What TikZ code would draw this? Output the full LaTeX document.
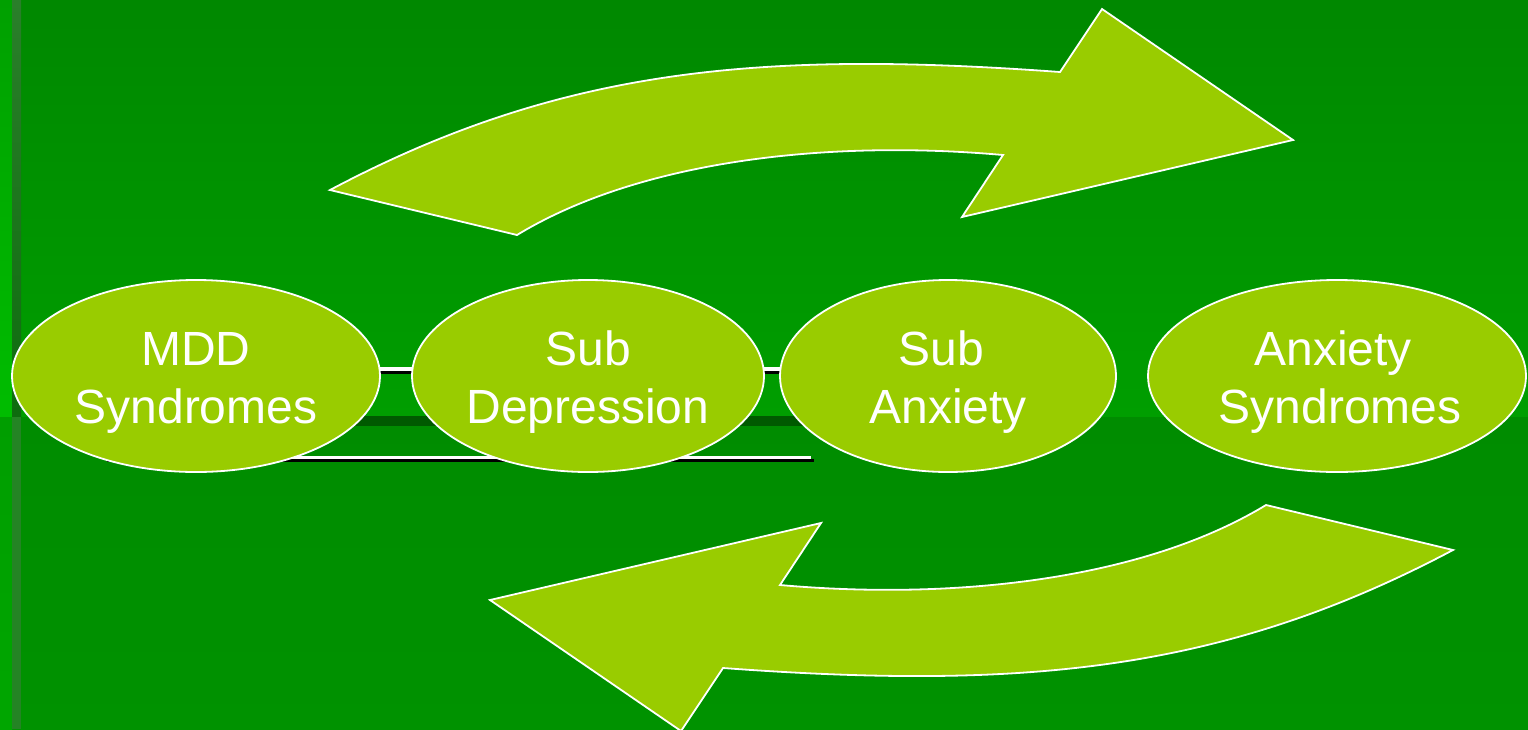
\documentclass[tikz,border=0pt]{standalone}
\usepackage{fontspec}
\setmainfont{Liberation Sans}
\usetikzlibrary{shapes.geometric}

\definecolor{bgtop}{HTML}{008800}
\definecolor{bgmid}{HTML}{009E00}
\definecolor{bglow}{HTML}{008C00}
\definecolor{bgbot}{HTML}{009200}
\definecolor{stripA}{HTML}{00A000}
\definecolor{stripB}{HTML}{00BC00}
\definecolor{stripC}{HTML}{009E00}
\definecolor{stripD}{HTML}{00A600}
\definecolor{edgeA}{HTML}{2A7F2A}
\definecolor{edgeB}{HTML}{0E6C0E}
\definecolor{edgeC}{HTML}{248424}
\definecolor{bandc}{HTML}{005A00}
\definecolor{lime}{HTML}{99CC00}

\tikzset{
  bub/.style={ellipse, draw=white, line width=1.8pt, fill=lime,
              inner sep=0pt, minimum height=192pt},
  lbl/.style={text=white, anchor=base, inner sep=0pt,
              font=\fontsize{48}{57}\selectfont},
  curvedarrow/.style={fill=lime, draw=white, line width=1.8pt, line join=miter},
  ruleline/.style={draw=white, line width=3.5pt},
  ruleshadow/.style={draw=black, line width=3.5pt}
}

\newcommand{\arrowshape}{%
  (330,190) .. controls (560,68) and (760,50) .. (1060,72)
  -- (1102,9) -- (1293,140) -- (962,217) -- (1003,155)
  .. controls (823,139) and (637,162) .. (517,235) -- cycle}

\begin{document}
\begin{tikzpicture}[x=1pt,y=-1pt]
\useasboundingbox (0,0) rectangle (1528,729);
\clip (0,0) rectangle (1528,729);

% background panels
\shade[top color=bgtop, bottom color=bgmid] (0,0) rectangle (1528,417);
\shade[top color=bglow, bottom color=bgbot] (0,417) rectangle (1528,729);
\shade[top color=stripA, bottom color=stripB] (0,0) rectangle (12,417);
\shade[top color=stripC, bottom color=stripD] (0,417) rectangle (12,729);
\shade[top color=edgeA, bottom color=edgeB] (12,0) rectangle (21,417);
\fill[edgeC] (12,417) rectangle (21,729);
\fill[bandc] (200,416) rectangle (948,426);

% rules behind the ovals
\coordinate (r1a) at (197,369);
\coordinate (r1b) at (947,369);
\coordinate (r2a) at (104,457.5);
\coordinate (r2b) at (811,457.5);
\draw[ruleshadow] ([shift={(3,3.3)}]r1a) -- ([shift={(3,3.3)}]r1b);
\draw[ruleline] (r1a) -- (r1b);
\draw[ruleshadow] ([shift={(3,3)}]r2a) -- ([shift={(3,3)}]r2b);
\draw[ruleline] (r2a) -- (r2b);

% curved arrows
\path[curvedarrow] \arrowshape;
\path[curvedarrow, rotate around={180:(891.5,370)}] \arrowshape;

% ovals
\node[bub, minimum width=368pt] (mdd) at (196,376) {};
\node[bub, minimum width=352pt] (subdep) at (588,376) {};
\node[bub, minimum width=336pt] (subanx) at (948,376) {};
\node[bub, minimum width=378pt] (anxsyn) at (1337,376) {};

% labels
\node[lbl] (mddA) at (196,365) {MDD};
\node[lbl] (mddB) at (196,423) {Syndromes};
\node[lbl] (subdepA) at (588,365) {Sub};
\node[lbl] (subdepB) at (588,423) {Depression};
\node[lbl] (subanxA) at (941,365) {Sub};
\node[lbl] (subanxB) at (948,423) {Anxiety};
\node[lbl] (anxsynA) at (1333,365) {Anxiety};
\node[lbl] (anxsynB) at (1340,423) {Syndromes};
\end{tikzpicture}
\end{document}
